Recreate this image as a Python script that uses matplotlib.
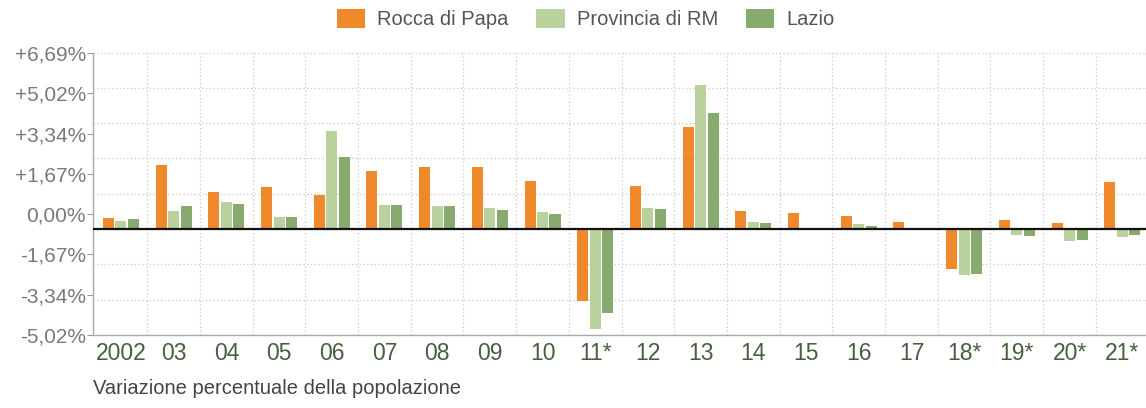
import matplotlib
matplotlib.use("Agg")
import matplotlib.pyplot as plt
from matplotlib.patches import Patch
import numpy as np

plt.rcParams['font.family'] = ['Liberation Sans', 'DejaVu Sans']

years = ['2002', '03', '04', '05', '06', '07', '08', '09', '10', '11*',
         '12', '13', '14', '15', '16', '17', '18*', '19*', '20*', '21*']
series_names = ['Rocca di Papa', 'Provincia di RM', 'Lazio']
rocca = [0.44, 2.66, 1.52, 1.76, 1.41, 2.42, 2.56, 2.59, 2.01, -3.00,
         1.80, 4.25, 0.73, 0.66, 0.55, 0.28, -1.66, 0.39, 0.25, 1.96]
provincia = [0.35, 0.75, 1.11, 0.49, 4.07, 1.00, 0.97, 0.86, 0.72, -4.15,
             0.87, 5.99, 0.30, -0.03, 0.20, -0.02, -1.90, -0.25, -0.51, -0.35]
lazio = [0.40, 0.95, 1.04, 0.51, 3.00, 1.00, 0.97, 0.79, 0.62, -3.49,
         0.83, 4.82, 0.24, -0.05, 0.11, -0.02, -1.87, -0.28, -0.44, -0.25]
y_tick_labels = ['-5,02%', '-3,34%', '-1,67%', '0,00%', '+1,67%', '+3,34%', '+5,02%', '+6,69%']
colors = ['#f0892b', '#b9d19d', '#87ab6f']
title_bottom = 'Variazione percentuale della popolazione'

W, H = 1146, 408
fig = plt.figure(figsize=(W / 100, H / 100), dpi=100)
ax = fig.add_axes([93 / W, 73 / H, (1148.6 - 93) / W, 282 / H])

x = np.arange(len(years))
bw = 0.21
off = 0.237
for i, (vals, c) in enumerate(zip([rocca, provincia, lazio], colors)):
    ax.bar(x + (i - 1) * off, vals, width=bw, color=c, zorder=3, linewidth=0)

ymin, ymax = -4.40, 7.31
ax.set_ylim(ymin, ymax)
ax.set_xlim(-0.53, len(years) - 0.5)

# grid
gstep = 7.33 / 5
for k in range(-3, 6):
    ax.axhline(k * gstep, color='#c8c8c8', lw=0.9, ls=(0, (1, 2)), zorder=1)
for b in np.arange(0.5, len(years) - 0.5, 1.0):
    ax.axvline(b, color='#c8c8c8', lw=0.9, ls=(0, (1, 2)), zorder=1)
ax.axhline(0, color='#111111', lw=1.6, zorder=4)

yt = np.linspace(ymin, ymax, len(y_tick_labels))
ax.set_yticks(yt)
ax.set_yticklabels(y_tick_labels, fontsize=15, color='#7a7a7a')
ax.set_xticks(x)
ax.set_xticklabels(years, fontsize=16.5, color='#46603f')
ax.tick_params(axis='y', length=4, width=0.8, color='#999999', pad=1)
ax.tick_params(axis='x', length=0, pad=5)

for s in ['top', 'right']:
    ax.spines[s].set_visible(False)
for s in ['left', 'bottom']:
    ax.spines[s].set_color('#aaaaaa')
    ax.spines[s].set_linewidth(1.0)

handles = [Patch(facecolor=c, edgecolor='none', label=n) for c, n in zip(colors, series_names)]
fig.legend(handles=handles, loc='center', bbox_to_anchor=(0.511, 1 - 19 / H), ncol=3,
           frameon=False, fontsize=14.5, handlelength=1.4, handleheight=1.1,
           handletextpad=0.6, columnspacing=1.4, labelcolor='#555555')

fig.text(93 / W, 1 - 388 / H, title_bottom, fontsize=14.5, color='#444444',
         ha='left', va='center')

fig.savefig('out.png', dpi=100)
